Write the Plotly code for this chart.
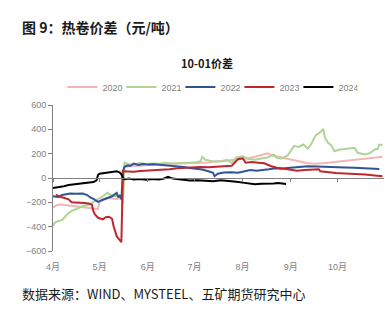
import plotly.graph_objects as go

BASE_YEAR = "2024"

# 10-01 hot-rolled coil spread by season (yuan/ton), dates as month-day
dates_2020 = ["04-01", "04-03", "04-06", "04-09", "04-13", "04-17", "04-21", "04-25", "04-28", "04-30",
              "05-01", "05-03", "05-06", "05-09", "05-12", "05-15", "05-16", "05-17", "05-20", "05-25",
              "05-31", "06-05", "06-10", "06-15", "06-20", "06-25", "06-30", "07-05", "07-10", "07-15",
              "07-20", "07-25", "07-30", "08-04", "08-09", "08-13", "08-17", "08-20", "08-24", "08-28",
              "09-02", "09-07", "09-11", "09-16", "09-22", "09-28", "10-04", "10-10", "10-16", "10-22",
              "10-27", "10-30"]
spread_2020 = [-245, -225, -218, -222, -228, -235, -240, -248, -253, -255,
               -195, -172, -165, -168, -172, -165, -160, 92, 95, 103,
               108, 111, 115, 118, 120, 125, 125, 125, 128, 138,
               138, 148, 152, 160, 175, 188, 203, 185, 175, 160,
               148, 135, 123, 117, 122, 130, 138, 145, 152, 160,
               168, 174]

dates_2021 = ["04-01", "04-02", "04-04", "04-07", "04-10", "04-13", "04-16", "04-20", "04-24", "04-28",
              "04-30", "05-03", "05-06", "05-08", "05-11", "05-13", "05-15", "05-16", "05-17", "05-19",
              "05-23", "05-27", "05-31", "06-04", "06-08", "06-12", "06-16", "06-20", "06-24", "06-28",
              "07-02", "07-05", "07-06", "07-08", "07-13", "07-18", "07-22", "07-25", "07-28", "08-01",
              "08-05", "08-09", "08-13", "08-17", "08-21", "08-23", "08-26", "08-30", "09-03", "09-06",
              "09-09", "09-12", "09-14", "09-17", "09-20", "09-22", "09-23", "09-25", "09-27", "09-29",
              "10-02", "10-07", "10-12", "10-14", "10-17", "10-19", "10-22", "10-25", "10-27", "10-28",
              "10-30"]
spread_2021 = [-396, -370, -355, -345, -300, -270, -255, -232, -220, -191,
               -170, -150, -122, -140, -150, -150, -170, -218, 125, 115,
               110, 125, 115, 120, 118, 125, 120, 122, 119, 125,
               130, 138, 174, 150, 136, 138, 150, 123, 169, 178,
               155, 150, 160, 168, 193, 165, 160, 185, 262, 255,
               275, 240, 275, 349, 377, 404, 330, 289, 270, 220,
               232, 240, 248, 207, 195, 193, 205, 234, 240, 275,
               270]

dates_2022 = ["04-01", "04-04", "04-07", "04-10", "04-12", "04-16", "04-20", "04-23", "04-25", "04-27",
              "04-30", "05-02", "05-05", "05-07", "05-09", "05-12", "05-13", "05-14", "05-15", "05-16",
              "05-17", "05-19", "05-21", "05-23", "05-26", "05-29", "06-01", "06-05", "06-09", "06-13",
              "06-17", "06-21", "06-24", "06-28", "07-02", "07-06", "07-10", "07-13", "07-14", "07-16",
              "07-20", "07-25", "07-29", "08-02", "08-06", "08-10", "08-14", "08-18", "08-22", "08-26",
              "08-30", "09-04", "09-08", "09-12", "09-18", "09-24", "09-30", "10-06", "10-12", "10-18",
              "10-24", "10-28"]
spread_2022 = [-150, -155, -140, -135, -127, -130, -128, -140, -160, -171,
               -196, -185, -170, -163, -150, -122, -160, -140, -177, 56,
               92, 103, 100, 119, 108, 115, 110, 112, 108, 102,
               95, 97, 90, 82, 75, 70, 55, 43, 15, 35,
               45, 48, 44, 52, 66, 60, 64, 72, 80, 76,
               82, 90, 92, 97, 95, 94, 92, 86, 84, 82,
               78, 75]

dates_2023 = ["04-03", "04-05", "04-08", "04-11", "04-13", "04-17", "04-21", "04-24", "04-26", "04-27",
              "04-28", "04-30", "05-03", "05-05", "05-07", "05-09", "05-10", "05-12", "05-14", "05-15",
              "05-16", "05-19", "05-23", "05-27", "05-31", "06-05", "06-10", "06-15", "06-20", "06-25",
              "06-30", "07-05", "07-10", "07-15", "07-20", "07-25", "07-29", "08-01", "08-03", "08-07",
              "08-11", "08-15", "08-19", "08-23", "08-27", "09-01", "09-05", "09-10", "09-14", "09-19",
              "09-20", "09-24", "09-30", "10-06", "10-12", "10-19", "10-25", "10-30"]
spread_2023 = [-136, -155, -162, -175, -199, -200, -205, -210, -218, -273,
               -300, -327, -340, -322, -318, -335, -396, -478, -510, -528,
               56, 55, 52, 58, 60, 64, 68, 72, 80, 84,
               85, 90, 88, 92, 95, 100, 154, 162, 126, 131,
               126, 121, 99, 85, 78, 71, 60, 65, 70, 72,
               56, 48, 42, 37, 35, 29, 21, 15]

dates_2024 = ["04-01", "04-04", "04-08", "04-11", "04-14", "04-18", "04-22", "04-25", "04-27", "04-29",
              "04-30", "05-01", "05-04", "05-07", "05-10", "05-12", "05-14", "05-15", "05-16", "05-17",
              "05-20", "05-23", "05-27", "05-31", "06-04", "06-08", "06-11", "06-14", "06-17", "06-21",
              "06-25", "06-28", "07-03", "07-08", "07-13", "07-18", "07-23", "07-28", "08-01", "08-05",
              "08-09", "08-13", "08-17", "08-21", "08-24", "08-27", "08-29"]
spread_2024 = [-82, -78, -67, -58, -53, -50, -45, -38, -33, -20,
               25, 35, 40, 45, 52, 56, 45, 30, 0, -10,
               -5, -12, -8, -14, -9, -12, -6, 10, -5, -12,
               -16, -20, -18, -22, -27, -18, -22, -30, -38, -45,
               -52, -48, -50, -46, -42, -48, -49]

series_names = ["2020", "2021", "2022", "2023", "2024"]
series_dates = [dates_2020, dates_2021, dates_2022, dates_2023, dates_2024]
series_values = [spread_2020, spread_2021, spread_2022, spread_2023, spread_2024]
series_colors = ["#F4B6B5", "#AFD595", "#2F5597", "#C0272D", "#000000"]

y_ticks = [-600, -400, -200, 0, 200, 400, 600]

AXIS_GREY = "#808080"
TEXT_GREY = "#7F7F7F"
CJK = "Noto Sans CJK SC"

fig = go.Figure()
for name, dts, vals, color in zip(series_names, series_dates, series_values, series_colors):
    fig.add_trace(go.Scatter(
        x=[f"{BASE_YEAR}-{d}" for d in dts],
        y=vals,
        name=name,
        mode="lines",
        line=dict(color=color, width=2),
        hoverinfo="skip",
    ))

# empty trace so the zero-line axis (x2) gets drawn
fig.add_trace(go.Scatter(x=[], y=[], xaxis="x2", yaxis="y", showlegend=False))

fig.update_layout(
    width=385,
    height=322,
    margin=dict(l=53, r=1, t=105, b=71),
    paper_bgcolor="white",
    plot_bgcolor="white",
    showlegend=True,
    legend=dict(
        orientation="h",
        x=0.474, xanchor="center",
        y=1.123, yanchor="middle",
        font=dict(family=f"Liberation Sans, {CJK}", size=9, color=TEXT_GREY),
        bgcolor="rgba(0,0,0,0)",
        itemwidth=30,
        entrywidth=14,
        entrywidthmode="pixels",
        tracegroupgap=0,
    ),
    xaxis=dict(
        type="date",
        range=[f"{BASE_YEAR}-04-01", f"{BASE_YEAR}-10-31"],
        tick0=f"{BASE_YEAR}-04-01",
        dtick="M1",
        tickformat="%-m月",
        ticks="",
        ticklabelstandoff=9,
        showline=False,
        showgrid=False,
        zeroline=False,
        tickfont=dict(family=f"Liberation Sans, {CJK}", size=9, color=TEXT_GREY),
    ),
    xaxis2=dict(
        type="date",
        overlaying="x",
        matches="x",
        anchor="free",
        position=0.5,
        range=[f"{BASE_YEAR}-04-01", f"{BASE_YEAR}-10-31"],
        tick0=f"{BASE_YEAR}-04-01",
        dtick="M1",
        ticks="outside",
        ticklen=3,
        tickcolor=AXIS_GREY,
        showticklabels=False,
        showline=True,
        linecolor=AXIS_GREY,
        linewidth=1,
        showgrid=False,
        zeroline=False,
    ),
    yaxis=dict(
        range=[-600, 600],
        tickvals=y_ticks,
        ticks="outside",
        ticklen=4,
        tickcolor=AXIS_GREY,
        showline=True,
        linecolor=AXIS_GREY,
        linewidth=1,
        showgrid=False,
        zeroline=False,
        tickfont=dict(family="Liberation Sans", size=9, color=TEXT_GREY),
    ),
    annotations=[
        dict(
            text="<b>图 9：热卷价差（元/吨）</b>",
            xref="paper", yref="paper",
            x=(20 - 53) / 331, y=(251 - 27) / 146,
            xanchor="left", yanchor="middle",
            showarrow=False,
            font=dict(family=CJK, size=14, color="#1A1A1A"),
        ),
        dict(
            text="<b>10-01价差</b>",
            xref="paper", yref="paper",
            x=(207 - 53) / 331, y=(251 - 63) / 146,
            xanchor="center", yanchor="middle",
            showarrow=False,
            font=dict(family=CJK, size=11, color="#1A1A1A"),
        ),
        dict(
            text="数据来源：WIND、MYSTEEL、五矿期货研究中心",
            xref="paper", yref="paper",
            x=(20 - 53) / 331, y=(251 - 293) / 146,
            xanchor="left", yanchor="middle",
            showarrow=False,
            font=dict(family=CJK, size=13, color="#1A1A1A"),
        ),
    ],
)

fig.write_html("out.html")
